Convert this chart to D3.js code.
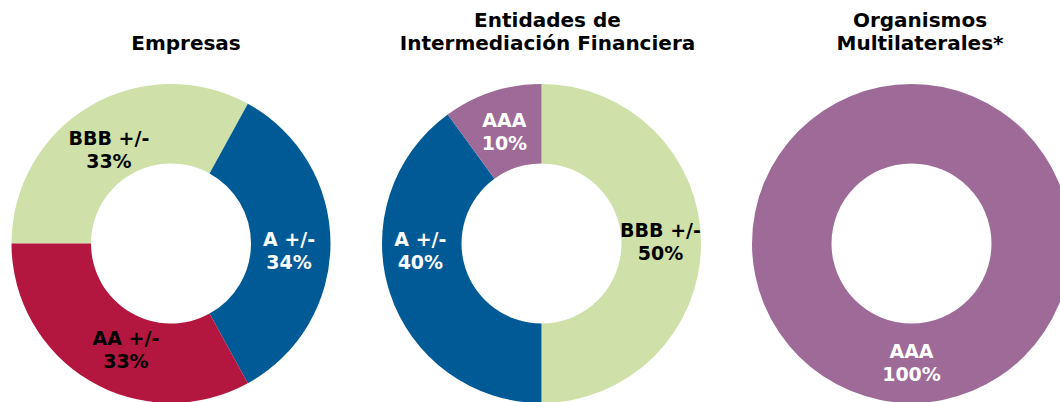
<!DOCTYPE html>
<meta charset="utf-8">
<script src="https://d3js.org/d3.v7.min.js"></script>
<style>
  body { margin: 0; background: #fff; }
  text { font-family: "DejaVu Sans", sans-serif; font-weight: bold; }
</style>
<div id="chart"></div>
<script>

var width = 1060, height = 402;

// datos
var titulos = [
  ["Empresas"],
  ["Entidades de", "Intermediación Financiera"],
  ["Organismos", "Multilaterales*"]
];

var empresas_cat = ["BBB +/-", "A +/-", "AA +/-"];
var empresas_val = [33, 34, 33];

var entidades_cat = ["BBB +/-", "A +/-", "AAA"];
var entidades_val = [50, 40, 10];

var organismos_cat = ["AAA"];
var organismos_val = [100];

var colores = {
  "BBB +/-": "#cfe0a8",
  "A +/-": "#005a96",
  "AA +/-": "#b3173f",
  "AAA": "#9e6a98"
};
var color_texto = {
  "BBB +/-": "#000",
  "A +/-": "#fff",
  "AA +/-": "#000",
  "AAA": "#fff"
};

// layout
var cy = 243.5, rOut = 159.5, rIn = 80, rLab = 120;
var centros = [171, 541.5, 911.5];
var inicio = [270, 0, 0];          // primer ángulo en grados (como Excel)
var tituloX = [186, 547.5, 920];
// etiquetas movidas a mano en el original
var ajuste = {
  "0|BBB +/-": [-1, 9], "0|A +/-": [-2, 6], "0|AA +/-": [16, 2],
  "1|AAA": [0, 1.5], "1|BBB +/-": [-1, -2.5], "1|A +/-": [-7, -31],
  "2|AAA": [0, -1.5]
};

var svg = d3.select("#chart")
  .append("svg")
  .attr("width", width)
  .attr("height", height);

var series = [
  { cat: empresas_cat, val: empresas_val },
  { cat: entidades_cat, val: entidades_val },
  { cat: organismos_cat, val: organismos_val }
];

var arco = d3.arc().innerRadius(rIn).outerRadius(rOut);
var arcoLab = d3.arc().innerRadius(rLab).outerRadius(rLab);

series.forEach(function(s, k) {
  var datos = s.cat.map(function(c, i) { return { cat: c, val: s.val[i] }; });
  var a0 = inicio[k] * Math.PI / 180;
  var pie = d3.pie().sort(null).value(function(d) { return d.val; })
    .startAngle(a0).endAngle(a0 + 2 * Math.PI);

  var g = svg.append("g").attr("transform", "translate(" + centros[k] + "," + cy + ")");

  g.selectAll("path")
    .data(pie(datos))
    .join("path")
    .attr("d", arco)
    .attr("fill", function(d) { return colores[d.data.cat]; });

  var lab = g.selectAll("text.lab")
    .data(pie(datos))
    .join("text")
    .attr("class", "lab")
    .attr("text-anchor", "middle")
    .style("font-size", "19px")
    .attr("fill", function(d) { return color_texto[d.data.cat]; })
    .attr("transform", function(d) {
      var c = arcoLab.centroid(d);
      var n = ajuste[k + "|" + d.data.cat] || [0, 0];
      return "translate(" + (c[0] + n[0]) + "," + (c[1] + n[1]) + ")";
    });

  lab.append("tspan").attr("x", 0).attr("y", -4).text(function(d) { return d.data.cat; });
  lab.append("tspan").attr("x", 0).attr("y", 19).text(function(d) { return d.data.val + "%"; });

  // título
  var t = titulos[k];
  var y0 = t.length == 1 ? 50 : 27;
  svg.append("text")
    .attr("text-anchor", "middle")
    .style("font-size", "20px")
    .attr("fill", "#000")
    .selectAll("tspan")
    .data(t)
    .join("tspan")
    .attr("x", tituloX[k])
    .attr("y", function(d, i) { return y0 + i * 23; })
    .text(function(d) { return d; });
});

</script>
